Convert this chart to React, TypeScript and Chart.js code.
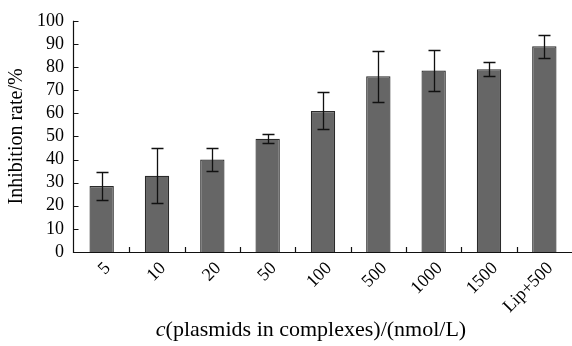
import React, { useEffect, useRef } from 'react';
import { Chart, registerables } from 'chart.js';
Chart.register(...registerables);

const categories = ['5', '10', '20', '50', '100', '500', '1000', '1500', 'Lip+500'];
const inhibition = [28.5, 33, 40, 49, 61, 76, 78.5, 79, 89];
const errors = [6, 12, 5, 2, 8, 11, 9, 3, 5];
const yMin = 0;
const yMax = 100;
const yStep = 10;
const yTitle = 'Inhibition rate/%';
const xTitleItalic = 'c';
const xTitleRest = '(plasmids in complexes)/(nmol/L)';

const FONT = "'Liberation Serif', 'Times New Roman', serif";

const overlay = {
  id: 'overlay',
  afterDatasetsDraw(chart: any) {
    const ctx = chart.ctx;
    const ys = chart.scales.y;
    const meta = chart.getDatasetMeta(0);
    ctx.save();
    ctx.strokeStyle = '#111';
    ctx.lineWidth = 1.3;
    meta.data.forEach((el: any, i: number) => {
      const v = inhibition[i];
      const e = errors[i];
      const x = Math.round(el.x) + 0.5;
      const yt = Math.round(ys.getPixelForValue(v + e)) + 0.5;
      const yb = Math.round(ys.getPixelForValue(v - e)) + 0.5;
      ctx.beginPath();
      ctx.moveTo(x, yt);
      ctx.lineTo(x, yb);
      ctx.moveTo(x - 6, yt);
      ctx.lineTo(x + 6, yt);
      ctx.moveTo(x - 6, yb);
      ctx.lineTo(x + 6, yb);
      ctx.stroke();
    });
    ctx.restore();
  },
  afterDraw(chart: any) {
    const ctx = chart.ctx;
    const { left, right, top, bottom } = chart.chartArea;
    const ys = chart.scales.y;
    const xs = chart.scales.x;
    const ax = Math.round(left) - 0.5;
    ctx.save();
    ctx.strokeStyle = '#111';
    ctx.lineWidth = 1.2;
    ctx.beginPath();
    ctx.moveTo(ax, top);
    ctx.lineTo(ax, bottom + 0.5);
    ctx.lineTo(right, bottom + 0.5);
    // y ticks inward
    for (let v = yMin; v <= yMax; v += yStep) {
      const y = Math.round(ys.getPixelForValue(v)) + 0.5;
      ctx.moveTo(ax, y);
      ctx.lineTo(ax + 5, y);
    }
    // x ticks between categories
    for (let i = 0; i < categories.length - 1; i++) {
      const x = Math.round((xs.getPixelForValue(i) + xs.getPixelForValue(i + 1)) / 2) + 0.5;
      ctx.moveTo(x, bottom);
      ctx.lineTo(x, bottom - 5);
    }
    ctx.stroke();

    // x title with italic c
    ctx.fillStyle = '#000';
    ctx.textBaseline = 'middle';
    ctx.font = `italic 22px ${FONT}`;
    const w1 = ctx.measureText(xTitleItalic).width;
    ctx.font = `22px ${FONT}`;
    const w2 = ctx.measureText(xTitleRest).width;
    const cx = 311;
    const sx = cx - (w1 + w2) / 2;
    const ty = 330;
    ctx.font = `italic 22px ${FONT}`;
    ctx.textAlign = 'left';
    ctx.fillText(xTitleItalic, sx, ty);
    ctx.font = `22px ${FONT}`;
    ctx.fillText(xTitleRest, sx + w1, ty);
    ctx.restore();
  },
};

export default function App() {
  const ref = useRef<HTMLCanvasElement>(null);
  useEffect(() => {
    if (!ref.current) return;
    const chart = new Chart(ref.current, {
      type: 'bar',
      data: {
        labels: categories,
        datasets: [
          {
            data: inhibition,
            backgroundColor: '#666666',
            borderColor: '#2a2a2a',
            borderWidth: 1.2,
            barPercentage: 0.88,
            categoryPercentage: 0.5,
          },
        ],
      },
      options: {
        animation: false,
        responsive: true,
        maintainAspectRatio: false,
        layout: { padding: { top: 15, right: 0, left: 0, bottom: 0 } },
        plugins: { legend: { display: false }, tooltip: { enabled: false } },
        scales: {
          x: {
            grid: { display: false, drawTicks: false },
            border: { display: false },
            ticks: {
              color: '#000',
              font: { family: FONT, size: 18 },
              minRotation: 45,
              maxRotation: 45,
              padding: 6,
              labelOffset: 6,
              autoSkip: false,
            },
            afterFit: (s: any) => {
              s.height = 94;
            },
          },
          y: {
            min: yMin,
            max: yMax,
            grid: { display: false, drawTicks: false },
            border: { display: false },
            ticks: {
              stepSize: yStep,
              color: '#000',
              font: { family: FONT, size: 18 },
              padding: 10,
              autoSkip: false,
            },
            title: {
              display: true,
              text: yTitle,
              color: '#000',
              font: { family: FONT, size: 20 },
              padding: { top: 5, bottom: 4 },
            },
            afterFit: (s: any) => {
              s.width = 74;
            },
          },
        },
      },
      plugins: [overlay],
    });
    return () => chart.destroy();
  }, []);
  return (
    <div style={{ position: 'fixed', left: 0, top: 0, width: 572, height: 346, background: '#fff' }}>
      <canvas ref={ref} />
    </div>
  );
}
